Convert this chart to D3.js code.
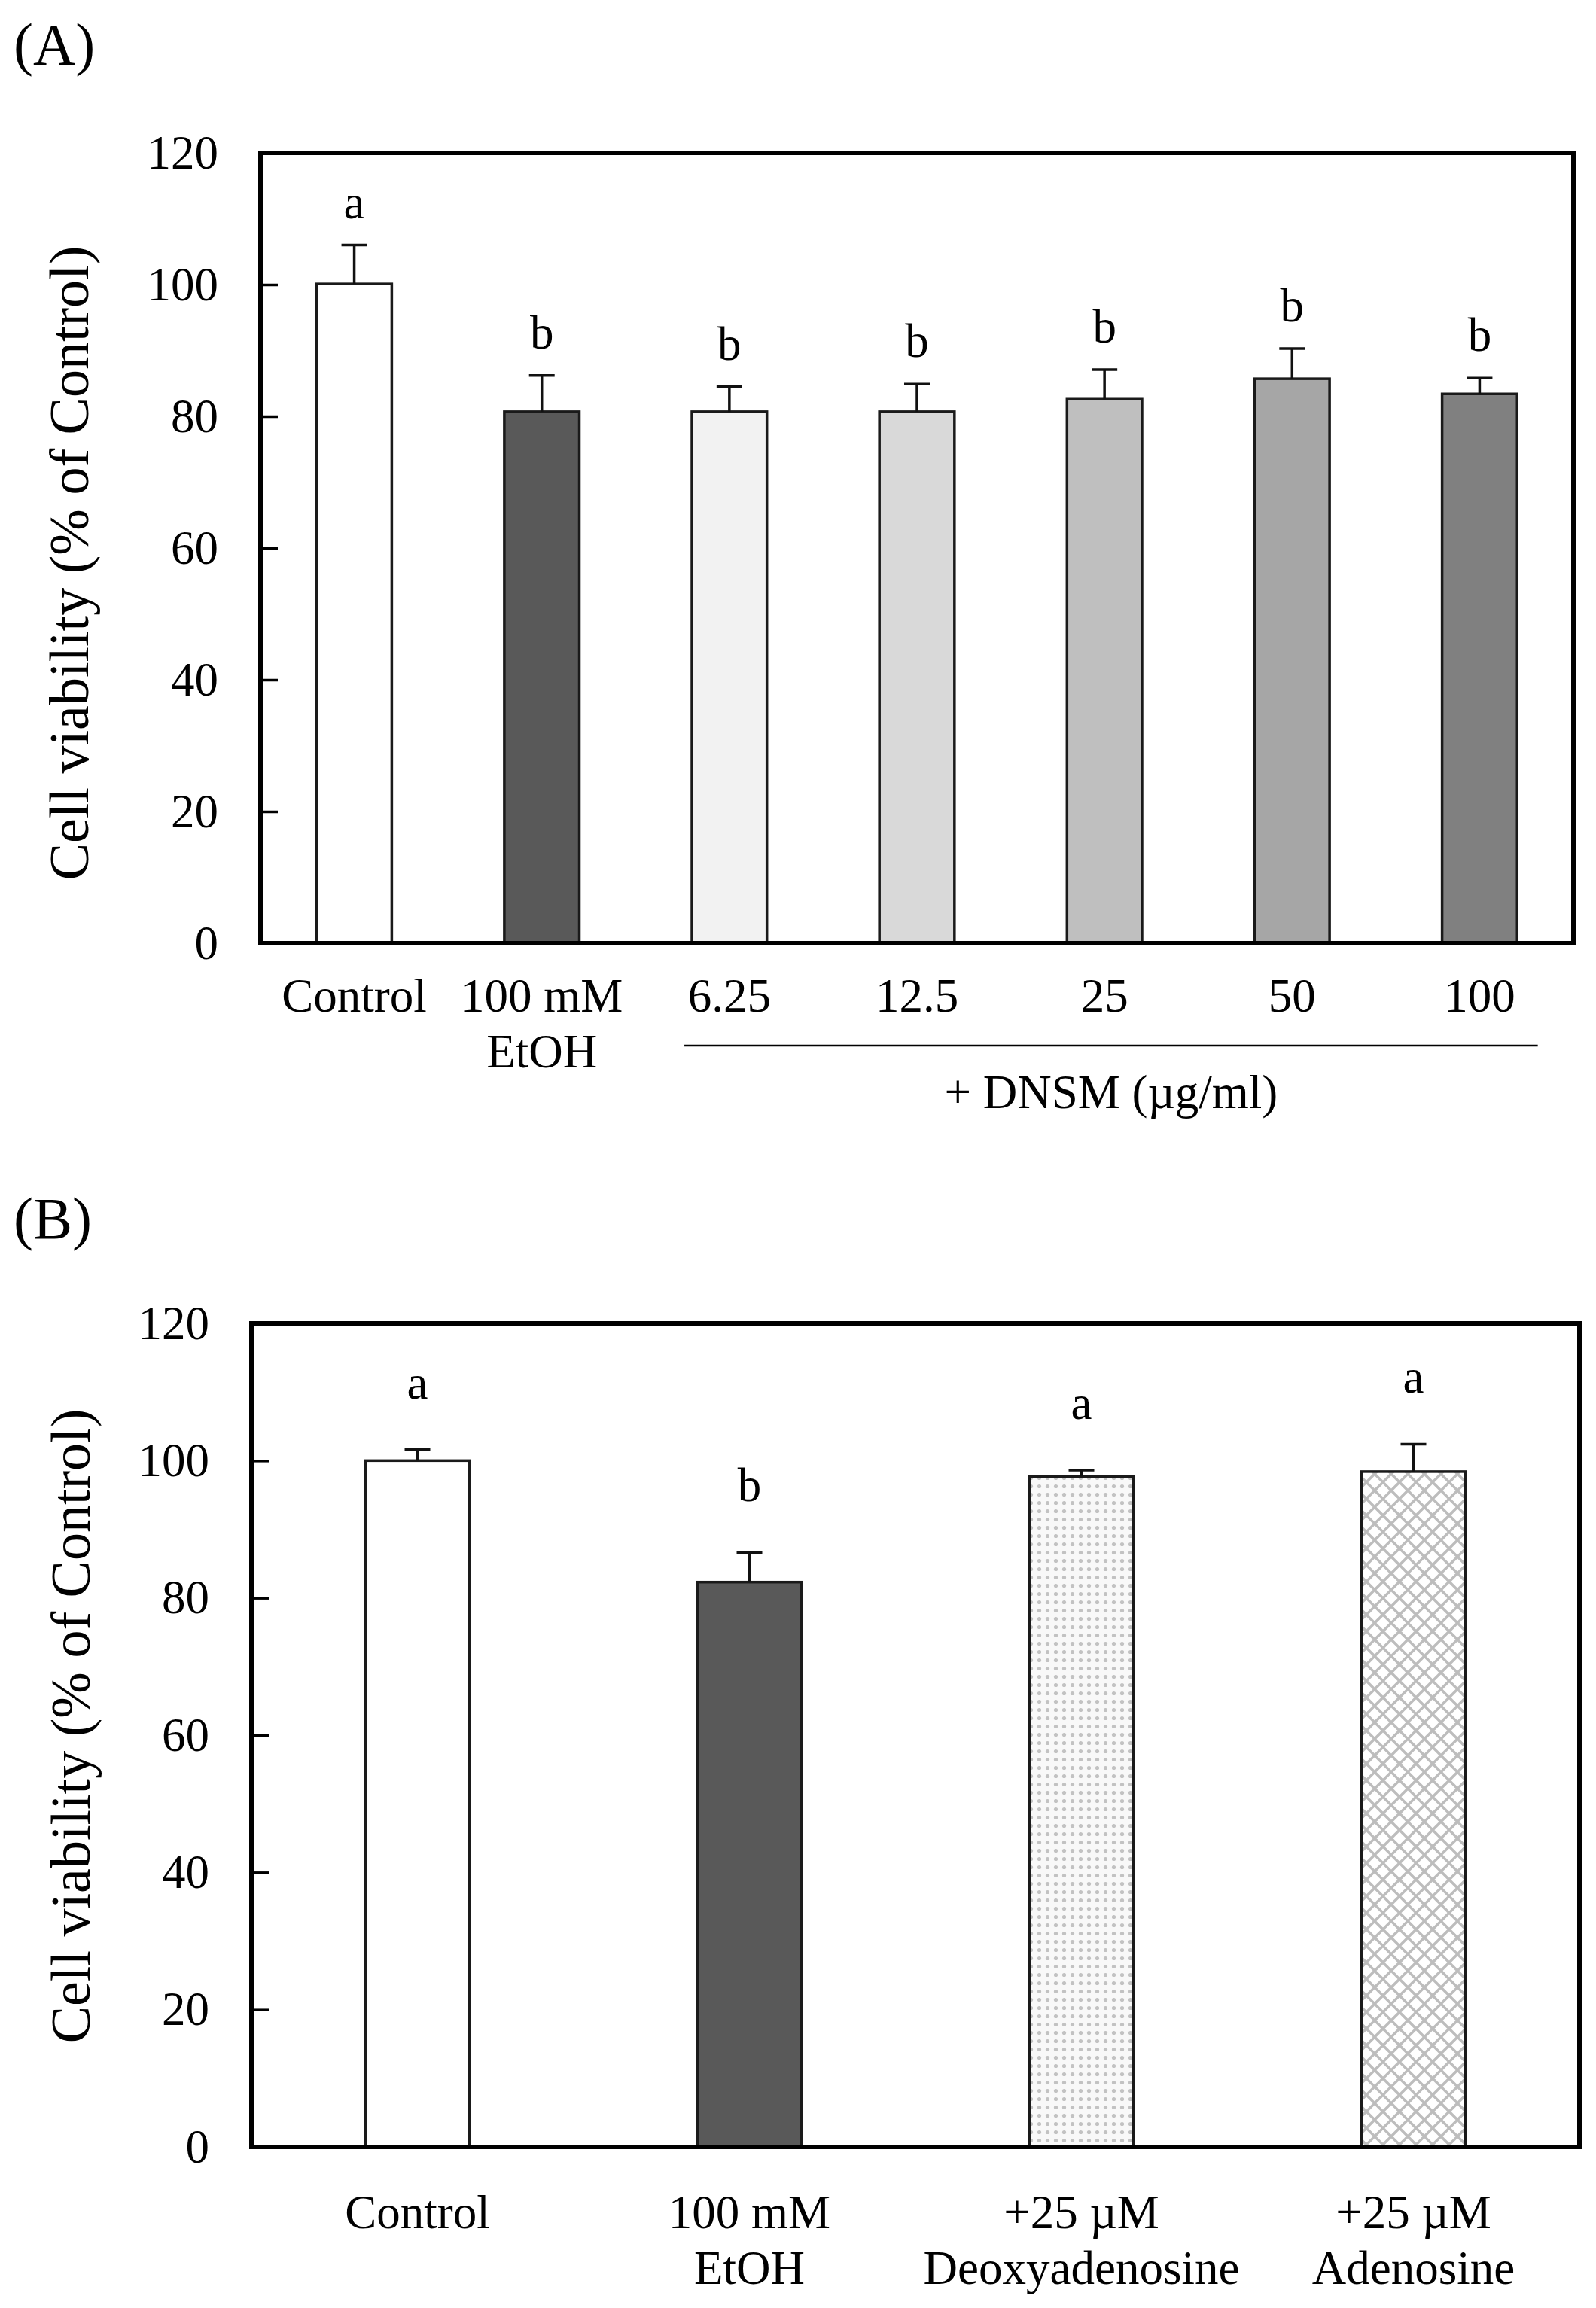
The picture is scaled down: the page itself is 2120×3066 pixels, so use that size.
<!DOCTYPE html>
<html>
<head>
<meta charset="utf-8">
<script src="https://cdn.jsdelivr.net/npm/d3@7"></script>
<style>
body { margin: 0; background: #fff; }
svg { display: block; }
text { font-family: 'Liberation Serif', 'Times New Roman', serif; fill: #000; }
</style>
</head>
<body>
<svg></svg>
<script>
let width = 2120
let height = 3066

// panel A
let groupsA = ['Control', '100 mM EtOH', '6.25', '12.5', '25', '50', '100']
let labelsA = [['Control'], ['100 mM', 'EtOH'], ['6.25'], ['12.5'], ['25'], ['50'], ['100']]
let meansA = [100.1, 80.7, 80.7, 80.7, 82.6, 85.7, 83.4]
let errorsA = [5.9, 5.5, 3.8, 4.2, 4.5, 4.6, 2.4]
let lettersA = ['a', 'b', 'b', 'b', 'b', 'b', 'b']
let fillsA = ['#ffffff', '#595959', '#f2f2f2', '#d9d9d9', '#bfbfbf', '#a6a6a6', '#808080']
let doseLabelA = '+ DNSM (µg/ml)'

// panel B
let groupsB = ['Control', '100 mM EtOH', '+25 µM Deoxyadenosine', '+25 µM Adenosine']
let labelsB = [['Control'], ['100 mM', 'EtOH'], ['+25 µM', 'Deoxyadenosine'], ['+25 µM', 'Adenosine']]
let meansB = [100, 82.3, 97.7, 98.4]
let errorsB = [1.6, 4.3, 0.9, 4.0]
let lettersB = ['a', 'b', 'a', 'a']
let fillsB = ['#ffffff', '#595959', 'url(#dots)', 'url(#hatch)']

let yTicks = [0, 20, 40, 60, 80, 100, 120]
let yTitle = 'Cell viability (% of Control)'

let svg = d3.select('svg')
    .attr('width', width)
    .attr('height', height)

let defs = svg.append('defs')
let dots = defs.append('pattern')
    .attr('id', 'dots')
    .attr('patternUnits', 'userSpaceOnUse')
    .attr('width', 11).attr('height', 11)
dots.append('rect').attr('width', 11).attr('height', 11).style('fill', '#f8f8f8')
dots.append('circle').attr('cx', 5.5).attr('cy', 5.5).attr('r', 2.6).style('fill', '#c2c2c2')

let hatch = defs.append('pattern')
    .attr('id', 'hatch')
    .attr('patternUnits', 'userSpaceOnUse')
    .attr('width', 22).attr('height', 22)
hatch.append('rect').attr('width', 22).attr('height', 22).style('fill', '#ffffff')
hatch.append('path')
    .attr('d', 'M-2,-2L24,24M24,-2L-2,24')
    .style('stroke', '#bdbdbd')
    .style('stroke-width', 3.5)

function drawPanel(cfg) {
    let g = svg.append('g')
    let x = d3.scaleBand()
        .domain(cfg.groups)
        .range([cfg.left, cfg.right])
        .paddingInner(cfg.pad)
        .paddingOuter(cfg.pad / 2)
    let y = d3.scaleLinear()
        .domain([0, 120])
        .range([cfg.bottom, cfg.top])

    let rows = cfg.groups.map((k, i) => ({
        key: k, mean: cfg.means[i], err: cfg.errors[i],
        letter: cfg.letters[i], fill: cfg.fills[i], lines: cfg.labels[i]
    }))
    let cx = d => x(d.key) + x.bandwidth() / 2

    g.append('g').selectAll('.bar')
        .data(rows).enter()
        .append('rect')
        .attr('class', 'bar')
        .attr('x', d => x(d.key))
        .attr('width', x.bandwidth())
        .attr('y', d => y(d.mean))
        .attr('height', d => y(0) - y(d.mean))
        .style('fill', d => d.fill)
        .style('stroke', '#1a1a1a')
        .style('stroke-width', 3.5)

    let err = g.append('g').selectAll('.err')
        .data(rows).enter()
        .append('g')
        .attr('class', 'err')
        .style('stroke', '#111')
        .style('stroke-width', 3.5)
    err.append('line')
        .attr('x1', cx).attr('x2', cx)
        .attr('y1', d => y(d.mean)).attr('y2', d => y(d.mean + d.err))
    err.append('line')
        .attr('x1', d => cx(d) - 17).attr('x2', d => cx(d) + 17)
        .attr('y1', d => y(d.mean + d.err)).attr('y2', d => y(d.mean + d.err))

    g.append('g').selectAll('.letter')
        .data(rows).enter()
        .append('text')
        .attr('class', 'letter')
        .attr('x', cx)
        .attr('y', d => y(d.mean + d.err) - cfg.letterGap)
        .attr('text-anchor', 'middle')
        .style('font-size', '63px')
        .text(d => d.letter)

    let axis = d3.axisLeft(y)
        .tickValues(yTicks)
        .tickSizeInner(-23)
        .tickSizeOuter(0)
        .tickPadding(56)
    let axisG = g.append('g')
        .attr('transform', `translate(${cfg.left},0)`)
        .call(axis)
    axisG.select('.domain').remove()
    axisG.selectAll('.tick line').style('stroke', '#000').style('stroke-width', 3.5)
    axisG.selectAll('.tick text')
        .style('font-size', '63px')
        .style('font-family', "'Liberation Serif', 'Times New Roman', serif")
        .style('fill', '#000')

    g.append('rect')
        .attr('x', cfg.left).attr('y', cfg.top)
        .attr('width', cfg.right - cfg.left)
        .attr('height', cfg.bottom - cfg.top)
        .style('fill', 'none')
        .style('stroke', '#000')
        .style('stroke-width', 6)

    let labels = g.append('g').selectAll('.xlabel')
        .data(rows).enter()
        .append('text')
        .attr('class', 'xlabel')
        .attr('text-anchor', 'middle')
        .style('font-size', '63px')
    labels.selectAll('tspan')
        .data(d => d.lines.map(t => ({ t: t, x: cx(d) })))
        .enter()
        .append('tspan')
        .attr('x', d => d.x)
        .attr('y', (d, i) => cfg.bottom + cfg.labelDy + i * 74)
        .text(d => d.t)

    g.append('text')
        .attr('transform', `translate(${cfg.titleX},${cfg.titleY}) rotate(-90)`)
        .attr('text-anchor', 'middle')
        .style('font-size', '74px')
        .text(yTitle)

    g.append('text')
        .attr('x', 18)
        .attr('y', cfg.panelY)
        .style('font-size', '78px')
        .text(cfg.panel)

    return { x: x, y: y }
}

let scalesA = drawPanel({
    groups: groupsA, labels: labelsA, means: meansA, errors: errorsA,
    letters: lettersA, fills: fillsA, pad: 0.6,
    left: 346, right: 2090, top: 203, bottom: 1253,
    letterGap: 36, labelDy: 91, titleX: 117, titleY: 748,
    panel: '(A)', panelY: 85
})

// DNSM bracket under the dose groups
let xA = scalesA.x
let lineX0 = xA(groupsA[2]) + xA.bandwidth() / 2 - 0.24 * xA.step()
let lineX1 = xA(groupsA[6]) + xA.bandwidth() / 2 + 0.31 * xA.step()
svg.append('line')
    .attr('x1', lineX0).attr('x2', lineX1)
    .attr('y1', 1389).attr('y2', 1389)
    .style('stroke', '#000')
    .style('stroke-width', 2.5)
svg.append('text')
    .attr('x', (lineX0 + lineX1) / 2)
    .attr('y', 1472)
    .attr('text-anchor', 'middle')
    .style('font-size', '63px')
    .text(doseLabelA)

drawPanel({
    groups: groupsB, labels: labelsB, means: meansB, errors: errorsB,
    letters: lettersB, fills: fillsB, pad: 0.687,
    left: 334, right: 2098, top: 1758, bottom: 2852,
    letterGap: 68, labelDy: 108, titleX: 119, titleY: 2293,
    panel: '(B)', panelY: 1645
})
</script>
</body>
</html>
